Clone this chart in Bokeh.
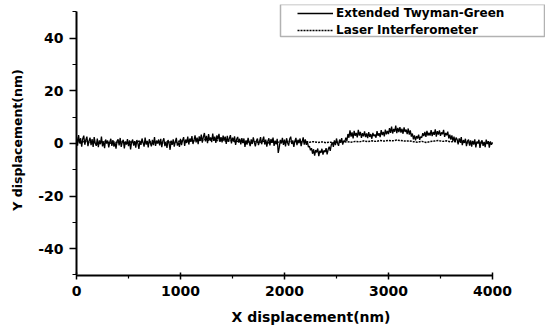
from bokeh.plotting import figure
from bokeh.models import Range1d, FixedTicker, Legend, LegendItem, BoxAnnotation
from bokeh.embed import file_html
from bokeh.resources import INLINE

# Extended Twyman-Green, sampled every 10 nm (0..4000)
tg_step = 10
tg_y = [
    2.5, -0.8, 3.2, 0.1, 2.0, -1.2, 1.8, 3.0, -0.5, 1.4, 2.6, -1.0, 0.9, 2.2, -0.6, 1.7, -1.3, 2.4, 0.2, -0.9,
    1.9, -1.4, 1.2, -0.3, 2.6, -1.1, 0.8, -1.8, 1.5, 0.0, 1.1, -1.5, 0.6, 1.8, -0.9, 1.3, -1.2, 0.4, -2.0, 0.9,
    1.6, -0.7, 2.1, -1.3, 0.5, 1.4, -1.9, 0.8, -0.4, 1.7, -1.0, 1.2, -2.3, 0.6, 1.5, -0.8, 0.9, -1.6, 1.3, 0.1,
    -2.1, 1.0, -0.5, 1.9, 0.3, -1.2, 2.2, -0.4, 1.0, -1.5, 1.6, 0.2, -1.1, 1.4, -0.6, 2.4, -0.9, 1.1, 0.0, 1.5,
    -0.7, 1.8, -1.4, 0.9, 2.0, -1.0, 0.6, -1.7, 1.3, 0.2, -2.4, 1.1, -0.5, 1.6, -1.2, 0.7, 2.1, -0.8, 0.4, -1.3,
    1.8, -0.6, 1.2, 2.4, -0.9, 1.5, 0.2, 2.6, -0.4, 1.9, 0.6, 2.8, -0.2, 1.3, 3.1, 0.4, 2.2, -0.3, 2.7, 1.0,
    3.4, 0.3, 2.5, 4.0, 0.8, 2.9, 0.1, 3.6, 1.2, 2.3, 0.5, 3.8, 1.0, 2.6, 0.2, 3.1, 1.5, 3.7, 0.6, 2.4,
    0.4, 3.0, 1.1, 2.6, -0.2, 2.9, 0.7, 1.9, 3.2, 0.0, 2.2, 0.9, 2.7, -0.5, 1.6, 2.5, 0.3, 1.8, -0.3, 2.0,
    0.1, 1.9, -1.3, 1.2, -0.4, 2.1, 0.5, -1.0, 1.6, -0.2, 2.3, 0.4, -1.1, 1.0, 1.9, -0.6, 0.8, 2.4, -0.3, 1.3,
    2.6, -0.4, 1.5, -1.2, 0.9, 2.0, -0.7, 1.7, 0.2, 2.2, -0.9, 1.1, -0.3, 1.8, -3.6, -1.5, 1.4, 0.0, 2.1, -0.5,
    1.5, -1.1, 2.0, 0.3, -0.8, 1.7, 2.6, -0.2, 1.2, -1.3, 0.9, 2.1, -0.6, 1.4, 0.1, 1.9, -1.0, 0.7, 2.3, -0.4,
    1.6, -0.5, 0.8, -1.4, -1.0, -2.6, -1.8, -3.9, -2.2, -4.6, -2.5, -3.4, -1.9, -4.8, -2.8, -3.6, -2.0, -4.2, -2.6, -3.3,
    -1.8, -4.1, -2.3, -1.2, -2.8, -0.5, 0.4, -1.3, 1.2, -0.6, 1.9, 0.1, -0.9, 1.5, 0.3, 2.0, -0.4, 1.1, 0.6, 2.2,
    1.0, 3.6, 2.2, 5.0, 2.6, 4.2, 1.9, 4.8, 2.9, 4.0, 2.3, 5.2, 3.0, 4.4, 2.1, 3.9, 2.7, 4.6, 2.4, 3.8,
    2.0, 4.3, 2.5, 3.6, 1.8, 4.0, 2.8, 3.4, 2.2, 4.7, 2.9, 3.9, 2.4, 5.1, 3.2, 4.4, 2.7, 5.3, 3.5, 4.8,
    3.6, 5.8, 4.0, 6.4, 3.8, 5.5, 4.5, 6.8, 3.9, 5.9, 4.3, 6.2, 4.1, 5.6, 3.7, 6.1, 4.4, 5.3, 3.6, 5.7,
    3.4, 5.0, 2.6, 3.8, 1.6, 3.1, 1.2, 2.8, 1.9, 3.4, 1.4, 2.6, 2.2, 3.9, 2.8, 4.4, 2.5, 4.8, 3.0, 4.1,
    3.0, 5.1, 2.8, 4.4, 3.3, 5.4, 2.6, 4.7, 3.4, 5.0, 2.9, 4.2, 3.5, 5.2, 2.5, 4.0, 3.1, 4.5, 1.9, 3.4,
    1.5, 3.1, 0.9, 2.6, 0.4, 2.2, 1.6, -0.3, 1.9, 0.5, 2.4, -0.6, 1.3, 0.2, 1.8, -1.0, 0.9, 1.5, -0.8, 1.2,
    -1.2, 1.0, -0.4, 1.6, -1.5, 0.7, 0.1, 1.4, -1.7, 0.5, 1.2, -0.9, 0.6, -1.4, 1.5, -0.2, 0.9, -1.6, 0.8, -0.5,
    0.4,
]

# Laser Interferometer, sampled every 40 nm (0..4000)
li_step = 40
li_y = [
    0.8, 0.2, 1.0, 0.4, 0.6, -0.2, 0.5, 0.9, 0.1, 0.6,
    0.3, 0.8, -0.1, 0.6, 0.2, 0.9, 0.4, 0.0, 0.7, 0.3,
    0.5, 0.1, 0.8, 0.3, 0.6, 1.0, 0.7, 1.2, 0.9, 1.4,
    1.1, 1.6, 1.2, 1.5, 1.0, 1.3, 0.8, 1.1, 0.7, 0.9,
    0.5, 0.8, 0.3, 0.7, 0.4, 0.9, 0.2, 0.6, 0.3, 0.7,
    0.4, 0.8, 0.5, 0.9, 0.6, 0.8, 0.5, 0.7, 0.4, 0.6,
    0.3, 0.5, 0.2, 0.6, 0.4, 0.7, 0.5, 0.8, 0.6, 1.0,
    0.7, 1.0, 0.8, 1.1, 0.9, 1.2, 1.0, 1.3, 1.1, 0.9,
    1.0, 0.7, 0.5, 0.8, 0.4, 0.7, 0.9, 1.1, 0.8, 1.0,
    0.6, 0.9, 0.4, 0.7, 0.2, 0.5, 0.1, 0.4, 0.0, 0.3,
    0.2,
]

tg_x = [i * tg_step for i in range(len(tg_y))]
li_x = [i * li_step for i in range(len(li_y))]

x_ticks = [0, 1000, 2000, 3000, 4000]
x_minor = [500, 1500, 2500, 3500]
y_ticks = [-40, -20, 0, 20, 40]
y_tick_labels = ["-40", "-20", "0", "20", "40"]
y_minor = [-50, -30, -10, 10, 30, 50]

FONT = "DejaVu Sans"

p = figure(width=545, height=331, output_backend="svg", toolbar_location=None,
           x_range=Range1d(0, 4510), y_range=Range1d(-50.2, 52.85),
           min_border_left=76, min_border_right=0, min_border_top=4,
           min_border_bottom=56)
p.grid.visible = False
p.outline_line_color = None
p.background_fill_color = "white"
p.border_fill_color = "white"

r1 = p.line(tg_x, tg_y, line_color="black", line_width=1.3)
r2 = p.line(li_x, li_y, line_color="black", line_width=1.5, line_dash="2 1")

for ax in (p.xaxis[0], p.yaxis[0]):
    ax.axis_line_width = 2
    ax.axis_line_color = "black"
    ax.major_tick_line_width = 1.5
    ax.minor_tick_line_width = 1.2
    ax.major_tick_line_color = "black"
    ax.minor_tick_line_color = "black"
    ax.major_label_text_font = FONT
    ax.major_label_text_font_style = "bold"
    ax.major_label_text_font_size = "14px"
    ax.major_label_text_color = "black"
    ax.axis_label_text_font = FONT
    ax.axis_label_text_font_style = "bold"
    ax.axis_label_text_color = "black"

xa = p.xaxis[0]
xa.bounds = (0, 4000)
xa.ticker = FixedTicker(ticks=x_ticks, minor_ticks=x_minor)
xa.major_tick_out = 4
xa.major_tick_in = 3
xa.minor_tick_out = 3
xa.minor_tick_in = 0
xa.major_label_standoff = 6
xa.axis_label = "X displacement(nm)"
xa.axis_label_text_font_size = "14px"
xa.axis_label_standoff = 10

ya = p.yaxis[0]
ya.bounds = (-50, 50)
ya.ticker = FixedTicker(ticks=y_ticks, minor_ticks=y_minor)
ya.major_label_overrides = dict(zip(y_ticks, y_tick_labels))
ya.major_tick_out = 7
ya.major_tick_in = 0
ya.minor_tick_out = 4
ya.minor_tick_in = 0
ya.major_label_standoff = 6
ya.axis_label = "Y displacement(nm)"
ya.axis_label_text_font_size = "12.5px"
ya.axis_label_standoff = 10

frame_box = BoxAnnotation(left=280, right=544, top=4, bottom=36,
                          left_units="canvas", right_units="canvas",
                          top_units="canvas", bottom_units="canvas",
                          fill_color="white", fill_alpha=1.0,
                          line_color="black", line_width=1.5)
p.add_layout(frame_box)

legend = Legend(items=[LegendItem(label="Extended Twyman-Green", renderers=[r1]),
                       LegendItem(label="Laser Interferometer", renderers=[r2])],
                location=(221, 238), margin=0, padding=3, spacing=3,
                glyph_width=36, glyph_height=12, label_height=12,
                label_standoff=3,
                label_text_font=FONT, label_text_font_style="bold",
                label_text_font_size="12px", label_text_color="black",
                border_line_color=None, background_fill_alpha=0.0)
p.add_layout(legend)

open("out.html", "w").write(file_html(p, INLINE))
